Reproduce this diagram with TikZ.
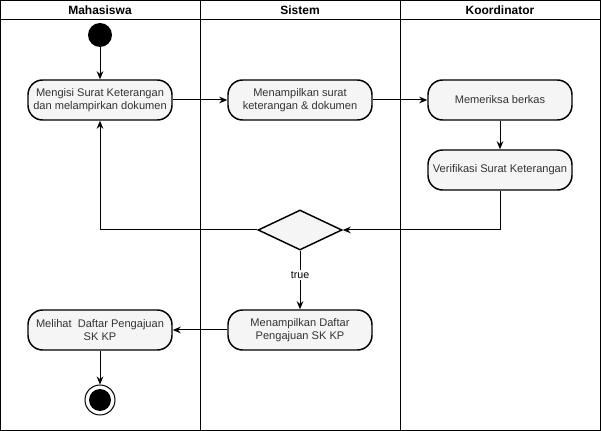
\documentclass[tikz,border=0pt]{standalone}
\usepackage{fontspec}
\setmainfont{Liberation Sans}
\usetikzlibrary{arrows.meta,shapes.geometric}
\definecolor{boxfill}{HTML}{F5F5F5}
\definecolor{txt}{HTML}{333333}
\begin{document}
\begin{tikzpicture}[x=0.75pt,y=-0.75pt,
  act/.style={draw, line width=1.1pt, fill=boxfill, rounded corners=11pt, minimum width=144*0.75pt, minimum height=40*0.75pt, align=center, text=txt, font=\fontsize{8.3}{10}\selectfont, inner sep=1pt},
  conn/.style={line width=0.75pt, -{Stealth[length=6pt,width=5pt]}},
  lane/.style={line width=0.75pt},
  hdr/.style={font=\bfseries\fontsize{9}{10}\selectfont}]
\useasboundingbox (0,0) rectangle (601,431);
% frame
\draw[lane] (0.5,0.5) rectangle (600.5,430.5);
\draw[lane] (0.5,20) -- (600.5,20);
\draw[lane] (200.5,0.5) -- (200.5,430.5);
\draw[lane] (400.5,0.5) -- (400.5,430.5);
\node[hdr] (h1) at (100,10) {Mahasiswa};
\node[hdr] (h2) at (300,10) {Sistem};
\node[hdr] (h3) at (500,10) {Koordinator};
% nodes
\node[circle, fill=black, minimum size=24*0.75pt, inner sep=0pt] (start) at (100,35) {};
\node[act] (b1) at (100,100) {Mengisi Surat Keterangan\\dan melampirkan dokumen};
\node[act] (b2) at (300,100) {Menampilkan surat\\keterangan \& dokumen};
\node[act] (b3) at (500,100) {Memeriksa berkas};
\node[act] (b4) at (500,170) {Verifikasi Surat Keterangan};
\node[diamond, draw, line width=1.1pt, fill=boxfill, minimum width=84*0.75pt, minimum height=40*0.75pt, inner sep=0pt, aspect=2.1] (d) at (300,230) {};
\node[act] (b5) at (300,330) {Menampilkan Daftar\\Pengajuan SK KP};
\node[act] (b6) at (100,330) {Melihat \ Daftar Pengajuan\\SK KP};
\node[circle, draw, line width=0.75pt, fill=white, minimum size=30*0.75pt, inner sep=0pt] (end) at (100,400) {};
\node[circle, fill=black, minimum size=22*0.75pt, inner sep=0pt] (endin) at (100,400) {};
% connectors
\draw[conn] (start) -- (b1);
\draw[conn] (b1) -- (b2);
\draw[conn] (b2) -- (b3);
\draw[conn] (b3) -- (b4);
\draw[conn] (b4.south) |- (d.east);
\draw[conn] (d.west) -| (b1.south);
\draw[conn] (d.south) -- node[fill=white, inner sep=1pt, font=\fontsize{8}{10}\selectfont, pos=0.42] (t) {true} (b5.north);
\draw[conn] (b5) -- (b6);
\draw[conn] (b6) -- (end);
\end{tikzpicture}
\end{document}
